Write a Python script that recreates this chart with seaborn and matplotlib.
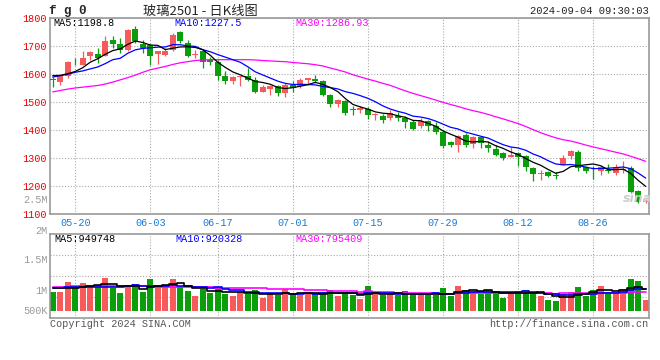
import numpy as np
import pandas as pd
import matplotlib
matplotlib.use("Agg")
import matplotlib.pyplot as plt
import seaborn as sns

# trading days on screen: 2024-05-15 .. 2024-09-04 (06-10 was a holiday)
dates = pd.bdate_range("2024-05-15", "2024-09-04").drop(pd.Timestamp("2024-06-10"))

open_px = [1580, 1569, 1591, 1642, 1632, 1662, 1671, 1664, 1721, 1707,
           1686, 1760, 1707, 1704, 1670, 1668, 1683, 1748, 1710, 1667,
           1682, 1650, 1640, 1593, 1573, 1587, 1590, 1579, 1535, 1545,
           1555, 1531, 1561, 1557, 1578, 1580, 1575, 1525, 1492, 1501,
           1472, 1470, 1474, 1451, 1448, 1442, 1448, 1442, 1426, 1412,
           1430, 1414, 1391, 1356, 1344, 1382, 1350, 1373, 1346, 1331,
           1318, 1304, 1316, 1307, 1263, 1243, 1250, 1238, 1275, 1305,
           1322, 1267, 1253, 1251, 1256, 1244, 1256, 1263, 1180, 1143]
high_px = [1588, 1595, 1644, 1656, 1682, 1682, 1692, 1736, 1733, 1727,
           1760, 1769, 1719, 1706, 1681, 1692, 1745, 1754, 1719, 1686,
           1688, 1660, 1650, 1608, 1593, 1593, 1620, 1588, 1559, 1559,
           1559, 1567, 1573, 1584, 1585, 1596, 1579, 1529, 1510, 1507,
           1486, 1484, 1481, 1460, 1457, 1472, 1462, 1448, 1436, 1442,
           1436, 1426, 1400, 1358, 1382, 1390, 1376, 1374, 1358, 1346,
           1322, 1337, 1320, 1310, 1268, 1256, 1254, 1250, 1308, 1328,
           1328, 1272, 1270, 1272, 1279, 1279, 1287, 1272, 1184, 1152]
low_px = [1552, 1558, 1586, 1630, 1630, 1650, 1640, 1662, 1692, 1674,
          1680, 1710, 1674, 1632, 1635, 1662, 1680, 1710, 1660, 1656,
          1620, 1632, 1578, 1564, 1562, 1555, 1573, 1531, 1533, 1525,
          1519, 1517, 1533, 1549, 1559, 1567, 1519, 1480, 1482, 1454,
          1452, 1458, 1440, 1433, 1424, 1436, 1430, 1406, 1400, 1406,
          1394, 1386, 1333, 1338, 1322, 1340, 1333, 1333, 1322, 1306,
          1293, 1303, 1271, 1254, 1218, 1221, 1232, 1223, 1273, 1295,
          1254, 1244, 1225, 1239, 1244, 1240, 1244, 1174, 1137, 1137]
close_px = [1578, 1593, 1640, 1640, 1656, 1676, 1656, 1718, 1707, 1686,
            1757, 1715, 1692, 1662, 1680, 1682, 1739, 1715, 1664, 1669,
            1640, 1640, 1590, 1573, 1588, 1589, 1579, 1533, 1553, 1557,
            1531, 1561, 1549, 1579, 1584, 1573, 1523, 1493, 1505, 1460,
            1470, 1478, 1454, 1456, 1436, 1460, 1442, 1426, 1402, 1430,
            1414, 1391, 1341, 1344, 1376, 1346, 1373, 1352, 1334, 1310,
            1298, 1310, 1304, 1265, 1241, 1245, 1235, 1236, 1298, 1325,
            1263, 1251, 1251, 1267, 1253, 1265, 1259, 1176, 1142, 1146]
volume_k = [817, 817, 1247, 1032, 1189, 1032, 1075, 1419, 960, 774,
            1032, 1146, 817, 1376, 1032, 1103, 1361, 1032, 845, 645,
            917, 774, 1032, 716, 630, 802, 716, 888, 559, 716,
            673, 917, 745, 673, 745, 716, 817, 888, 630, 774,
            673, 501, 1060, 716, 673, 745, 673, 845, 673, 673,
            673, 673, 974, 645, 1075, 888, 845, 716, 888, 745,
            559, 817, 845, 888, 788, 645, 458, 416, 702, 802,
            1032, 645, 888, 1075, 817, 716, 931, 1361, 1275, 458]

# averages at the left edge need days before the window
ma5_head = [1593, 1594, 1600, 1608]
ma10_head = [1588, 1593, 1598, 1605, 1610, 1617, 1624, 1636, 1650]
ma30_head = [1535, 1540, 1545, 1549, 1552, 1555, 1558, 1563, 1570, 1578,
             1586, 1595, 1605, 1614, 1620, 1626, 1633, 1639, 1643, 1647,
             1649, 1650, 1650, 1650, 1650, 1650, 1650, 1649, 1647]
vol_ma5_head = [960, 960, 975, 990]
vol_ma10_head = [990, 995, 1000, 1005, 1010, 1015, 1020, 1030, 1035]
vol_ma30_head = [1030, 1035, 1040, 1045, 1045, 1045, 1050, 1050, 1050, 1050,
                 1050, 1050, 1050, 1045, 1040, 1040, 1040, 1035, 1030, 1020,
                 1010, 1000, 995, 990, 980, 975, 970, 965, 955]

tick_days = ["05-20", "06-03", "06-17", "07-01", "07-15", "07-29", "08-12", "08-26"]
price_ticks = [1100, 1200, 1300, 1400, 1500, 1600, 1700, 1800]
vol_labels = ["2.5M", "2M", "1.5M", "1M", "500K"]

RED = "#f75a5a"
GREEN = "#0a9e0a"
FRAME = "#999999"
GRID = "#aaaaaa"


def moving_avg(s, n, head):
    ma = s.rolling(n).mean()
    ma.iloc[:len(head)] = head
    return ma


def main():
    df = pd.DataFrame({"date": dates, "open": open_px, "high": high_px, "low": low_px,
                       "close": close_px, "volume": volume_k})
    df["idx"] = np.arange(len(df))
    df["dir"] = np.where(df["close"] >= df["open"], "up", "down")
    df["ma5"] = moving_avg(df["close"], 5, ma5_head)
    df["ma10"] = moving_avg(df["close"], 10, ma10_head)
    df["ma30"] = moving_avg(df["close"], 30, ma30_head)
    df["vma5"] = moving_avg(df["volume"], 5, vol_ma5_head)
    df["vma10"] = moving_avg(df["volume"], 10, vol_ma10_head)
    df["vma30"] = moving_avg(df["volume"], 30, vol_ma30_head)

    sns.set_style("white")
    plt.rcParams["font.family"] = ["Liberation Mono", "Noto Sans CJK SC"]

    W, H = 660, 360
    fig = plt.figure(figsize=(W / 100, H / 100), dpi=100)
    ax = fig.add_axes([50 / W, 1 - 213.7 / H, 599 / W, 196 / H])
    axv = fig.add_axes([50 / W, 1 - 318.3 / H, 599 / W, 84 / H])

    # ---- candles
    colors = df["dir"].map({"up": RED, "down": GREEN})
    ax.vlines(df["idx"], df["low"], df["high"], colors=colors, linewidth=0.9, zorder=2)
    body_h = (df["close"] - df["open"]).abs().clip(lower=3)
    body_lo = df[["open", "close"]].min(axis=1)
    ax.bar(df["idx"], body_h, bottom=body_lo, width=0.8, color=colors, linewidth=0, zorder=3)

    for col, c in [("ma30", "#ff00ff"), ("ma10", "#0000ff"), ("ma5", "black")]:
        sns.lineplot(data=df, x="idx", y=col, color=c, linewidth=0.9, ax=ax, zorder=4)

    # ---- volume
    sns.barplot(data=df, x="idx", y="volume", hue="dir", palette={"up": RED, "down": GREEN},
                native_scale=True, width=0.8, saturation=1, errorbar=None, linewidth=0,
                legend=False, ax=axv, zorder=2)
    for col, c in [("vma30", "#ff00ff"), ("vma10", "#0000ff"), ("vma5", "black")]:
        sns.lineplot(data=df, x="idx", y=col, color=c, linewidth=1.2, drawstyle="steps-mid",
                     ax=axv, zorder=4)

    tick_pos = [int(np.flatnonzero(df["date"].dt.strftime("%m-%d") == d)[0]) for d in tick_days]
    for a in (ax, axv):
        a.set_xlim(-0.36, 79.44)
        a.set_xticks(tick_pos)
        a.set_xlabel("")
        a.set_ylabel("")
        a.set_axisbelow(True)
        a.grid(True, color=GRID, linestyle=(0, (1, 1.6)), linewidth=0.8)
        for s in a.spines.values():
            s.set_visible(True)
            s.set_color(FRAME)
            s.set_linewidth(1.2)

    ax.set_ylim(1100, 1800)
    ax.set_yticks(price_ticks)
    ax.set_xticklabels(tick_days)
    ax.tick_params(axis="y", length=0, pad=2.5, labelsize=7.3, labelcolor="#ee0000")
    ax.tick_params(axis="x", length=0, pad=3, labelsize=7.3, labelcolor="#1a7ad4")

    vlo, vhi = -327, 3285
    axv.set_ylim(vlo, vhi)
    axv.set_yticks(np.linspace(vlo, vhi, 5)[1:4])
    axv.set_yticklabels([])
    axv.set_xticklabels([])
    axv.tick_params(length=0)

    def put(x, y, s, **kw):
        kw.setdefault("fontsize", 7.3)
        kw.setdefault("va", "center")
        fig.text(x / W, 1 - y / H, s, **kw)

    put(49, 11, "f g 0", fontsize=9, fontweight="bold", family="Liberation Mono")
    put(200, 11, "玻璃2501 - 日K线图", ha="center", fontsize=9.5,
        family=["Noto Sans CJK SC", "DejaVu Sans"])
    put(649, 11.5, "2024-09-04 09:30:03", ha="right", fontsize=7.6)

    put(53, 23.5, "MA5:1198.8", color="black")
    put(174, 23.5, "MA10:1227.5", color="#0000ff")
    put(295, 23.5, "MA30:1286.93", color="#ff00ff")
    put(54, 238.5, "MA5:949748", color="black")
    put(175, 238.5, "MA10:920328", color="#0000ff")
    put(295, 238.5, "MA30:795409", color="#ff00ff")

    for lab, y in zip(vol_labels, [200, 231, 260, 290.5, 310.5]):
        put(47.5, y, lab, ha="right", color="#999999")

    put(637, 198, "sina", ha="center", fontsize=9, fontweight="bold", style="italic",
        color="#cccccc", family="DejaVu Sans")

    put(50, 324, "Copyright 2024 SINA.COM", color="#555555")
    put(648.5, 324, "http://finance.sina.com.cn", ha="right", color="#555555")

    fig.savefig("out.png", dpi=100)
    plt.close(fig)


if __name__ == "__main__":
    main()
